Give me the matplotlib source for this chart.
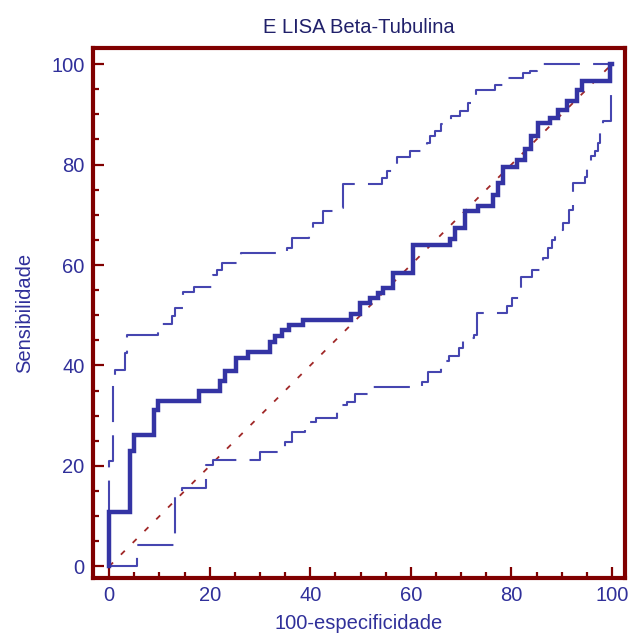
import matplotlib
matplotlib.use("Agg")
import matplotlib.pyplot as plt
from matplotlib.ticker import MultipleLocator

plt.rcParams['font.family'] = ['Liberation Sans', 'DejaVu Sans']
plt.rcParams['lines.scale_dashes'] = False

# curva ROC (100-especificidade, sensibilidade), vertices em escada
roc_x = [0, 0, 4.2, 5.0, 8.9, 9.8, 17.8, 22.0, 23.0, 25.2, 27.7, 32.0, 33.0,
         34.4, 35.7, 38.6, 48.2, 49.9, 51.9, 53.5, 54.5, 56.5, 60.5, 67.8,
         68.8, 70.8, 73.4, 76.4, 77.4, 78.4, 81.1, 82.7, 84.0, 85.3, 87.7,
         89.3, 91.0, 93.0, 94.0, 99.6, 100]
roc_y = [0, 10.9, 23.0, 26.2, 31.2, 33.0, 35.0, 37.0, 39.0, 41.5, 42.7, 44.6,
         45.9, 47.1, 48.1, 49.0, 50.3, 52.5, 53.4, 54.5, 55.5, 58.5, 64.0,
         65.2, 67.4, 70.7, 71.7, 74.0, 76.3, 79.6, 81.0, 83.0, 85.6, 88.3,
         89.3, 90.9, 92.6, 94.9, 96.6, 100, 100]

# intervalo de confiança 95% - limite superior
sup_x = [0, 0, 0.7, 1.2, 3.2, 3.6, 9.8, 12.5, 13.1, 14.6, 16.8, 20.7, 21.4,
         22.4, 25.4, 26.3, 35.3, 36.3, 39.8, 40.6, 42.6, 44.9, 46.6, 54.2,
         55.2, 57.2, 59.8, 63.3, 63.8, 64.8, 66.1, 67.9, 69.8, 71.4, 73.0,
         76.7, 79.1, 82.4, 83.7, 85.0, 100]
sup_y = [0, 21.0, 37.5, 39.2, 42.5, 46.1, 48.3, 49.8, 51.5, 54.7, 55.7, 58.1,
         59.0, 60.4, 61.2, 62.4, 63.4, 65.4, 66.5, 68.4, 70.7, 71.4, 76.2,
         77.3, 78.7, 81.6, 82.6, 84.3, 85.6, 86.6, 88.0, 89.6, 90.6, 92.3,
         94.9, 95.9, 97.2, 98.2, 98.6, 100, 100]

# limite inferior
inf_x = [0, 5.5, 13.1, 14.5, 19.3, 20.7, 30.0, 35.0, 36.3, 39.0, 41.2, 45.3,
         46.3, 47.3, 48.9, 52.2, 62.2, 63.5, 66.1, 67.5, 69.6, 70.4, 72.6,
         73.2, 79.1, 80.1, 82.0, 84.2, 86.3, 87.3, 88.0, 88.7, 90.3, 91.5,
         92.3, 94.6, 95.1, 95.8, 96.6, 97.3, 97.6, 98.3, 99.9]
inf_y = [0, 4.3, 14.6, 15.6, 20.2, 21.1, 22.7, 24.7, 26.7, 28.7, 29.5, 31.5,
         32.2, 32.8, 34.4, 35.7, 36.8, 38.8, 40.8, 41.9, 43.5, 45.5, 46.1,
         50.5, 51.8, 53.4, 57.7, 59.1, 61.4, 63.4, 65.0, 67.0, 68.4, 71.0,
         76.3, 77.6, 79.3, 81.7, 82.6, 84.3, 87.3, 88.6, 100]

diag = [0, 100]

texto = '#30309A'
moldura = '#800000'

fig = plt.figure(figsize=(6.31, 6.39), dpi=100)
ax = fig.add_axes([93 / 631, 1 - 578 / 639, 532 / 631, 530 / 639])

ax.plot(diag, diag, color='#A02828', lw=1.3, dashes=(4, 8))
ax.plot(sup_x, sup_y, drawstyle='steps-post', color='#4646B0', lw=1.5,
        dashes=(26, 9.5))
ax.plot(inf_x, inf_y, drawstyle='steps-post', color='#4646B0', lw=1.5,
        dashes=(26, 9.5))
ax.plot(roc_x, roc_y, drawstyle='steps-post', color='#3434A4', lw=3.2,
        solid_joinstyle='miter')

ax.set_xlim(-3.2, 102.6)
ax.set_ylim(-2.3, 103.2)
ax.xaxis.set_major_locator(MultipleLocator(20))
ax.xaxis.set_minor_locator(MultipleLocator(5))
ax.yaxis.set_major_locator(MultipleLocator(20))
ax.yaxis.set_minor_locator(MultipleLocator(5))
ax.tick_params(which='major', direction='in', length=8, width=1.6,
               color=moldura, labelcolor=texto, labelsize=14.5, pad=6)
ax.tick_params(which='minor', direction='in', length=4.5, width=1.6,
               color=moldura)

for s in ax.spines.values():
    s.set_color(moldura)
    s.set_linewidth(3)

ax.set_title('E LISA Beta-Tubulina', fontsize=14.5, color='#20206A', pad=10.5)
ax.set_xlabel('100-especificidade', fontsize=14.5, color=texto, labelpad=6)
ax.set_ylabel('Sensibilidade', fontsize=14.5, color=texto, labelpad=12)

fig.savefig('out.png', dpi=100)
plt.close(fig)
